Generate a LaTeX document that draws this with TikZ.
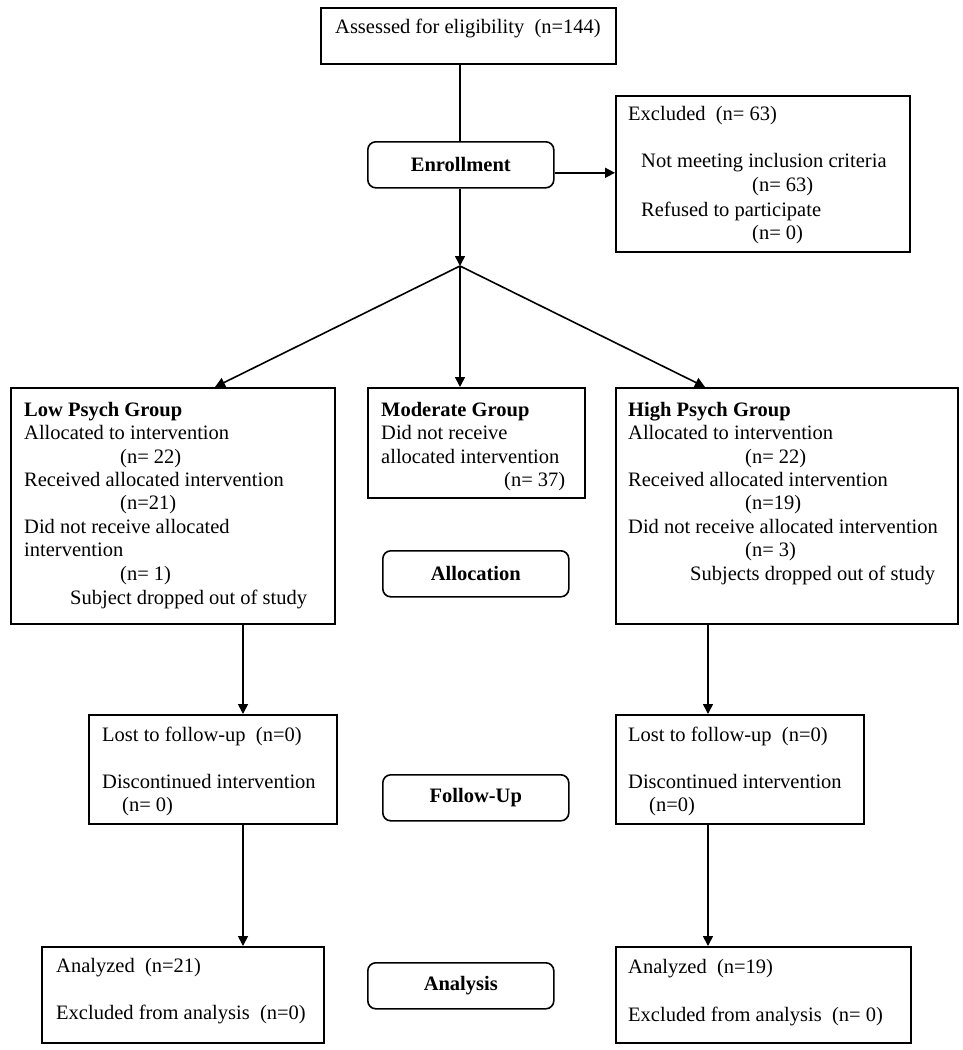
\documentclass[tikz,border=0pt]{standalone}
\usepackage{fontspec}
\setmainfont{Liberation Serif}
\usetikzlibrary{arrows.meta}
\begin{document}
\begin{tikzpicture}[x=1pt,y=-1pt,
  box/.style={draw, line width=1.6pt, inner sep=0pt, anchor=north west},
  rbox/.style={box, rounded corners=8pt, font=\fontsize{20.5}{24}\selectfont\bfseries},
  tl/.style={anchor=base west, inner sep=0pt, font=\fontsize{20.5}{24}\selectfont},
  tb/.style={tl, font=\fontsize{20.5}{24}\selectfont\bfseries},
  arr/.style={line width=1.6pt, -{Triangle[length=10pt,width=10pt]}},
  ln/.style={line width=1.6pt}]
\useasboundingbox (0,0) rectangle (962,1050);
% boxes
\node[box, minimum width=295pt, minimum height=56pt] (assess) at (320,7) {};
\node[rbox, minimum width=186pt, minimum height=46pt] (enroll) at (367,141) {Enrollment};
\node[box, minimum width=294pt, minimum height=156pt] (excl) at (615,95) {};
\node[box, minimum width=324pt, minimum height=236pt] (low) at (10,387) {};
\node[box, minimum width=217pt, minimum height=110pt] (mod) at (367,387) {};
\node[box, minimum width=342pt, minimum height=236pt] (high) at (615,387) {};
\node[rbox, minimum width=186pt, minimum height=46pt] (alloc) at (382,550) {Allocation};
\node[box, minimum width=248pt, minimum height=109pt] (lostL) at (88,714) {};
\node[rbox, minimum width=186pt, minimum height=46pt] (follow) at (382,774) {Follow-Up};
\node[box, minimum width=248pt, minimum height=109pt] (lostR) at (615,714) {};
\node[box, minimum width=282pt, minimum height=96pt] (anaL) at (41,946) {};
\node[rbox, minimum width=186pt, minimum height=46pt] (anal) at (367,962) {Analysis};
\node[box, minimum width=295pt, minimum height=96pt] (anaR) at (615,946) {};
% texts
\node[tl] (t1) at (335,33) {Assessed for eligibility\ \ (n=144)};
\node[tl] (t2) at (628,120) {Excluded\ \ (n= 63)};
\node[tl] (t3) at (641,167) {Not meeting inclusion criteria};
\node[tl] (t4) at (752,191) {(n= 63)};
\node[tl] (t5) at (641,216) {Refused to participate};
\node[tl] (t6) at (752,239) {(n= 0)};
% low
\node[tb] (l1) at (24,416) {Low Psych Group};
\node[tl] (l2) at (24,439) {Allocated to intervention};
\node[tl] (l3) at (120,463) {(n= 22)};
\node[tl] (l4) at (24,486) {Received allocated intervention};
\node[tl] (l5) at (120,509) {(n=21)};
\node[tl] (l6) at (24,533) {Did not receive allocated};
\node[tl] (l7) at (24,556) {intervention};
\node[tl] (l8) at (120,580) {(n= 1)};
\node[tl] (l9) at (70,604) {Subject dropped out of study};
% moderate
\node[tb] (m1) at (381,416) {Moderate Group};
\node[tl] (m2) at (381,439) {Did not receive};
\node[tl] (m3) at (381,463) {allocated intervention};
\node[tl] (m4) at (504,486) {(n= 37)};
% high
\node[tb] (h1) at (628,416) {High Psych Group};
\node[tl] (h2) at (628,439) {Allocated to intervention};
\node[tl] (h3) at (745,463) {(n= 22)};
\node[tl] (h4) at (628,486) {Received allocated intervention};
\node[tl] (h5) at (745,509) {(n=19)};
\node[tl] (h6) at (628,533) {Did not receive allocated intervention};
\node[tl] (h7) at (745,556) {(n= 3)};
\node[tl] (h8) at (690,580) {Subjects dropped out of study};
% follow-up
\node[tl] (f1) at (102,741) {Lost to follow-up\ \ (n=0)};
\node[tl] (f2) at (102,788) {Discontinued intervention};
\node[tl] (f3) at (122,811) {(n= 0)};
\node[tl] (g1) at (628,741) {Lost to follow-up\ \ (n=0)};
\node[tl] (g2) at (628,788) {Discontinued intervention};
\node[tl] (g3) at (649,811) {(n=0)};
% analysis
\node[tl] (a1) at (56,972) {Analyzed\ \ (n=21)};
\node[tl] (a2) at (56,1019) {Excluded from analysis\ \ (n=0)};
\node[tl] (b1) at (628,973) {Analyzed\ \ (n=19)};
\node[tl] (b2) at (628,1021) {Excluded from analysis\ \ (n= 0)};
% connectors
\coordinate (J) at (460,266);
\coordinate (cl) at (243,0);
\coordinate (cr) at (708,0);
\coordinate (lowin) at (215,387);
\coordinate (highin) at (705,387);
\coordinate (e1) at ([yshift=-8pt]enroll.east);
\draw[ln] (J |- assess.south) -- (J |- enroll.north);
\draw[arr] (e1) -- (e1 -| excl.west);
\draw[arr] (J |- enroll.south) -- (J);
\draw[arr] (J) -- (lowin);
\draw[arr] (J) -- (J |- mod.north);
\draw[arr] (J) -- (highin);
\draw[arr] (cl |- low.south) -- (cl |- lostL.north);
\draw[arr] (cr |- high.south) -- (cr |- lostR.north);
\draw[arr] (cl |- lostL.south) -- (cl |- anaL.north);
\draw[arr] (cr |- lostR.south) -- (cr |- anaR.north);
\end{tikzpicture}
\end{document}
